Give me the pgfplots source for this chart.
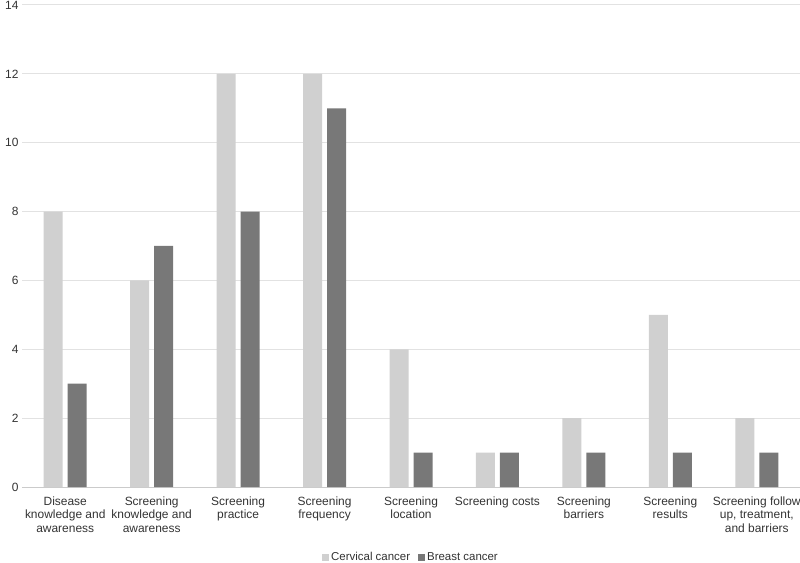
\documentclass[border=0pt]{standalone}
\usepackage{fontspec}
\setmainfont{Liberation Sans}
\usepackage{pgfplots}
\pgfplotsset{compat=1.18}
\definecolor{cervical}{HTML}{D0D0D0}
\definecolor{breast}{HTML}{787878}
\definecolor{gridc}{HTML}{E2E2E2}
\definecolor{txt}{HTML}{333333}
\begin{document}
\begin{tikzpicture}
\path[use as bounding box] (0,0) rectangle (800bp,563bp);
\begin{axis}[
    at={(22bp,76bp)}, anchor=south west,
    scale only axis, width=778bp, height=482bp,
    ybar, bar width=19bp,
    xmin=-0.5, xmax=8.5, ymin=0, ymax=14,
    ytick={0,2,...,14},
    xtick={0,...,8},
    xticklabels={{Disease\\knowledge and\\awareness}, {Screening\\knowledge and\\awareness}, {Screening\\practice}, {Screening\\frequency}, {Screening\\location}, {Screening costs}, {Screening\\barriers}, {Screening\\results}, {Screening follow\\up, treatment,\\and barriers}},
    x tick label style={align=center, font=\fontsize{12}{13.5}\selectfont, text=txt, yshift=-6bp},
    y tick label style={font=\fontsize{12}{13}\selectfont, text=txt},
    /pgf/number format/assume math mode=true,
    major tick length=0pt,
    axis line style={draw=none},
    ymajorgrids, grid style={gridc, line width=1bp},
    extra y ticks={0}, extra y tick labels={},
    extra y tick style={grid style={color=gridc!90!black, line width=1bp}},
    legend style={draw=none, at={(0.5,-0.146)}, anchor=center, legend columns=2,
        font=\fontsize{11.5}{13}\selectfont, text=txt,
        /tikz/every even column/.append style={column sep=6bp}},
    legend image code/.code={\fill[#1] (0bp,-3.5bp) rectangle (7bp,3.5bp);},
    clip=false,
]
\addplot[fill=cervical, draw=none, bar shift=-12bp] coordinates {(0,8) (1,6) (2,12) (3,12) (4,4) (5,1) (6,2) (7,5) (8,2)};
\addplot[fill=breast, draw=none, bar shift=12bp] coordinates {(0,3) (1,7) (2,8) (3,11) (4,1) (5,1) (6,1) (7,1) (8,1)};
\legend{Cervical cancer, Breast cancer}
\end{axis}
\end{tikzpicture}
\end{document}
